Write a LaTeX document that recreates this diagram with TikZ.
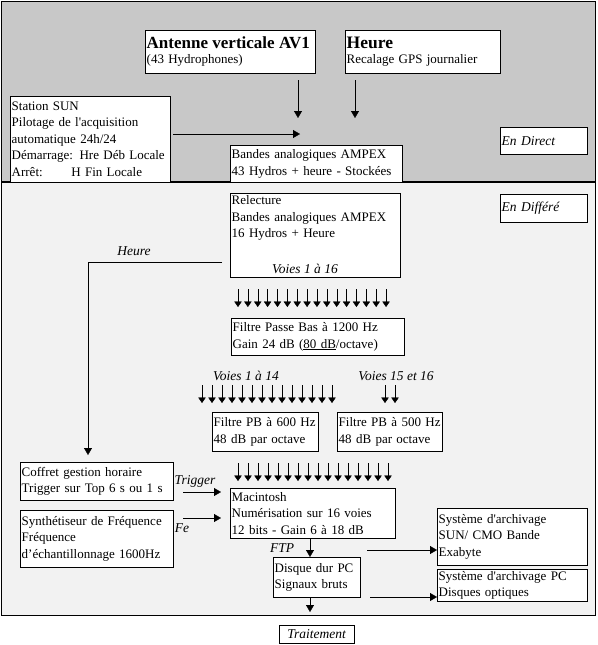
\documentclass[tikz,border=0pt]{standalone}
\usepackage{fontspec}
\setmainfont{Liberation Serif}
\usetikzlibrary{arrows.meta}
\definecolor{topgray}{RGB}{200,200,200}
\definecolor{lowgray}{RGB}{242,242,242}
\newcommand{\sq}{\textquotesingle}
\begin{document}
\begin{tikzpicture}[x=1pt,y=-1pt,
  box/.style={draw, fill=white, anchor=north west, align=left, inner ysep=2pt, inner xsep=1.5pt,
    font=\fontsize{13}{16.5}\selectfont},
  lab/.style={font=\fontsize{13.5}{15}\selectfont\itshape, inner sep=0pt},
  arr/.style={-{Triangle[width=8pt,length=7pt]}},
  sarr/.style={-{Triangle[width=7.5pt,length=5.5pt]}}]
\useasboundingbox (0,0) rectangle (597,645);
\fill[white] (0,0) rectangle (597,645);
% regions
\draw[fill=topgray] (1,1) rectangle (595,182);
\draw[fill=lowgray] (1,182) rectangle (595,615);
\draw[line width=2pt] (1,182) -- (595,182);
% top boxes
\node[box, text width=167pt, minimum height=43pt] (ant) at (145,30)
  {{\fontsize{17}{18}\selectfont\bfseries Antenne verticale AV1}\\[-1pt]{\fontsize{13}{14}\selectfont (43 Hydrophones)}};
\node[box, text width=152pt, minimum height=43pt] (heure) at (345,30)
  {{\fontsize{17.5}{18}\selectfont\bfseries Heure}\\[-1pt]{\fontsize{13}{14}\selectfont Recalage GPS journalier}};
\node[box, text width=157pt, minimum height=86pt] (sun) at (10,96)
  {Station SUN\\Pilotage de l\sq acquisition\\automatique 24h/24\\D\'emarrage: Hre D\'eb Locale\\Arr\^et:\hspace{2.2em}H Fin Locale};
\node[box, text width=169pt, minimum height=37pt] (bandes) at (230,145)
  {Bandes analogiques AMPEX\\43 Hydros + heure - Stock\'ees};
\node[box, text width=84pt, minimum height=27pt, font=\fontsize{13.5}{15}\selectfont\itshape] (direct) at (500,127) {En Direct};
\node[box, text width=84pt, minimum height=28pt, font=\fontsize{13.5}{15}\selectfont\itshape] (differe) at (500,194) {En Diff\'er\'e};
\coordinate (antout) at (298,80);
\coordinate (antin) at (298,118);
\coordinate (heureout) at (355,80);
\coordinate (heurein) at (355,118);
\coordinate (sunout) at (173,134);
\coordinate (sunin) at (300,134);
\draw[arr] (antout) -- (antin);
\draw[arr] (heureout) -- (heurein);
\draw[arr] (sunout) -- (sunin);
% relecture
\node[box, text width=167pt, minimum height=84pt, align=left] (relect) at (230,193)
  {Relecture\\Bandes analogiques AMPEX\\16 Hydros + Heure\\[20pt]\mbox{}};
\node[lab] (v16) at (305,269) {Voies 1 \`a 16};
% Heure line
\coordinate (hl1) at (222,262);
\coordinate (hl2) at (88,262);
\coordinate (hl3) at (88,455);
\draw[arr] (hl1) -- (hl2) -- (hl3);
\node[lab] (hlab) at (134,251) {Heure};
% arrows 16
\foreach \i in {0,...,15} {
  \coordinate (a\i) at ({238+9.87*\i},289);
  \coordinate (b\i) at ({238+9.87*\i},307);
  \draw[sarr] (a\i) -- (b\i);
}
\node[box, text width=170pt, minimum height=37pt] (fpb) at (231,318)
  {Filtre Passe Bas \`a 1200 Hz\\Gain 24 dB (\underline{80 dB}/octave)};
\node[lab] (v14) at (246,376) {Voies 1 \`a 14};
\node[lab] (v1516) at (396,376) {Voies 15 et 16};
\foreach \i in {0,...,13} {
  \coordinate (c\i) at ({202+10*\i},385);
  \coordinate (d\i) at ({202+10*\i},403);
  \draw[sarr] (c\i) -- (d\i);
}
\foreach \i in {0,1} {
  \coordinate (e\i) at ({385+10*\i},385);
  \coordinate (f\i) at ({385+10*\i},403);
  \draw[sarr] (e\i) -- (f\i);
}
\node[box, text width=103pt, minimum height=39pt] (f600) at (212,412)
  {\mbox{Filtre PB \`a 600 Hz}\\48 dB par octave};
\node[box, text width=102pt, minimum height=39pt] (f500) at (337,412)
  {\mbox{Filtre PB \`a 500 Hz}\\48 dB par octave};
\foreach \i in {0,...,15} {
  \coordinate (g\i) at ({238+10*\i},463);
  \coordinate (h\i) at ({238+10*\i},481);
  \draw[sarr] (g\i) -- (h\i);
}
% lower left
\node[box, text width=150pt, minimum height=38pt] (coffret) at (20,462)
  {Coffret gestion horaire\\Trigger sur Top 6 s ou 1 s};
\node[box, text width=150pt, minimum height=57pt] (synth) at (20,510)
  {Synth\'etiseur de Fr\'equence\\Fr\'equence\\d'\'echantillonnage 1600Hz};
\node[box, text width=162pt, minimum height=50pt] (mac) at (230,488)
  {Macintosh\\Num\'erisation sur 16 voies\\12 bits - Gain 6 \`a 18 dB};
\coordinate (tr1) at (183,492);
\coordinate (tr2) at (221,492);
\draw[arr] (tr1) -- (tr2);
\node[lab] (trig) at (195,481) {Trigger};
\coordinate (fe1) at (183,518);
\coordinate (fe2) at (221,518);
\draw[arr] (fe1) -- (fe2);
\node[lab] (fe) at (182,528) {Fe};
\node[box, text width=84pt, minimum height=40pt] (disque) at (273,557)
  {Disque dur PC\\Signaux bruts};
\node[lab] (ftp) at (282,548) {FTP};
\coordinate (m2) at (310,538);
\coordinate (m3) at (310,557);
\draw[arr] (m2) -- (m3);
\coordinate (d1) at (310,597);
\coordinate (d2) at (310,612);
\draw[arr] (d1) -- (d2);
\node[box, text width=147pt, minimum height=57pt] (arsun) at (437,508)
  {Syst\`eme d\sq archivage\\SUN/ CMO Bande\\Exabyte};
\node[box, text width=147pt, minimum height=31pt] (arpc) at (437,569)
  {Syst\`eme d\sq archivage PC\\Disques optiques};
\coordinate (s1) at (367,550);
\coordinate (s2) at (437,550);
\draw[arr] (s1) -- (s2);
\coordinate (p1) at (370,597);
\coordinate (p2) at (437,597);
\draw[arr] (p1) -- (p2);
\node[box, text width=72pt, minimum height=18pt, align=center, font=\fontsize{13.5}{15}\selectfont\itshape] (trait) at (279,625) {Traitement};
\end{tikzpicture}
\end{document}
